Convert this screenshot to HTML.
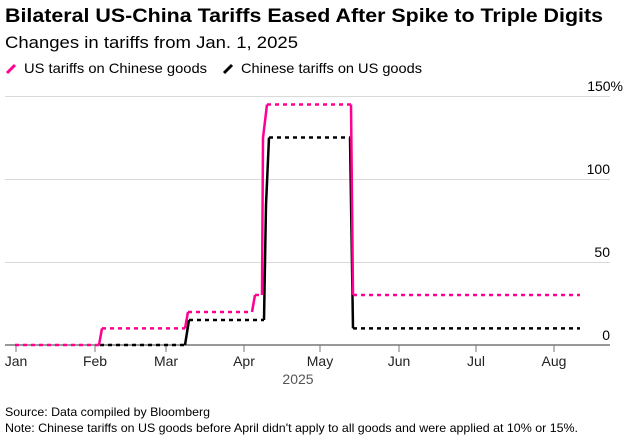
<!DOCTYPE html>
<html><head><meta charset="utf-8"><style>
body{margin:0;background:#fff;width:629px;height:441px;overflow:hidden;font-family:"Liberation Sans",sans-serif;}
</style></head><body>
<svg width="629" height="441" xmlns="http://www.w3.org/2000/svg" font-family="Liberation Sans, sans-serif">
<text x="5" y="22" font-size="19" font-weight="bold" fill="#000" textLength="598" lengthAdjust="spacingAndGlyphs">Bilateral US-China Tariffs Eased After Spike to Triple Digits</text>
<text x="5" y="48" font-size="17" fill="#000" textLength="293" lengthAdjust="spacingAndGlyphs">Changes in tariffs from Jan. 1, 2025</text>
<line x1="7" y1="73" x2="15" y2="65" stroke="#ff0090" stroke-width="3"/>
<text x="24" y="73" font-size="14" fill="#000" textLength="183" lengthAdjust="spacingAndGlyphs">US tariffs on Chinese goods</text>
<line x1="224" y1="73" x2="232" y2="65" stroke="#000" stroke-width="3"/>
<text x="241" y="73" font-size="14" fill="#000" textLength="181" lengthAdjust="spacingAndGlyphs">Chinese tariffs on US goods</text>
<g stroke="#d9d9d9" stroke-width="1">
<line x1="5" y1="96.5" x2="610" y2="96.5"/>
<line x1="5" y1="179.5" x2="610" y2="179.5"/>
<line x1="5" y1="262.5" x2="610" y2="262.5"/>
</g>
<g font-size="14" fill="#000" text-anchor="end">
<text x="623" y="91">150%</text>
<text x="610" y="174">100</text>
<text x="610" y="257">50</text>
<text x="610" y="340">0</text>
</g>
<line x1="5" y1="345" x2="610" y2="345" stroke="#777" stroke-width="1.5"/>
<g stroke="#777" stroke-width="1">
<line x1="16" y1="345" x2="16" y2="352"/><line x1="95" y1="345" x2="95" y2="352"/>
<line x1="166" y1="345" x2="166" y2="352"/><line x1="244" y1="345" x2="244" y2="352"/>
<line x1="320" y1="345" x2="320" y2="352"/><line x1="399" y1="345" x2="399" y2="352"/>
<line x1="476" y1="345" x2="476" y2="352"/><line x1="554" y1="345" x2="554" y2="352"/>
</g>
<g font-size="14" fill="#222" text-anchor="middle">
<text x="16" y="366">Jan</text><text x="95" y="366">Feb</text><text x="166" y="366">Mar</text>
<text x="244" y="366">Apr</text><text x="320" y="366">May</text><text x="399" y="366">Jun</text>
<text x="476" y="366">Jul</text><text x="554" y="366">Aug</text>
<text x="298" y="384" fill="#555">2025</text>
</g>
<g stroke="#000" stroke-width="2.5" fill="none">
<path d="M100 345H185" stroke-dasharray="4 4"/>
<path d="M185 345L189 320"/>
<path d="M189 320H264" stroke-dasharray="4 4"/>
<path d="M264 320L266 205L269 137.5"/>
<path d="M269 137.5H350" stroke-dasharray="4 4"/>
<path d="M350 137.5L353 328.4"/>
<path d="M353 328.4H580" stroke-dasharray="4 4"/>
</g>
<g stroke="#ff0090" stroke-width="2.5" fill="none">
<path d="M15 345H99" stroke-dasharray="4 4"/>
<path d="M99 345L102 328.4"/>
<path d="M102 328.4H185" stroke-dasharray="4 4"/>
<path d="M185 328.4L188 312"/>
<path d="M188 312H252" stroke-dasharray="4 4"/>
<path d="M252 312L255 295"/>
<path d="M255 295H262" stroke-dasharray="4 4"/>
<path d="M262 295L263 138L267 104.5"/>
<path d="M267 104.5H351" stroke-dasharray="4 4"/>
<path d="M351 104.5L353 295"/>
<path d="M353 295H580" stroke-dasharray="4 4"/>
</g>
<text x="5" y="416" font-size="12" fill="#000" textLength="205" lengthAdjust="spacingAndGlyphs">Source: Data compiled by Bloomberg</text>
<text x="5" y="432" font-size="12" fill="#000" textLength="573" lengthAdjust="spacingAndGlyphs">Note: Chinese tariffs on US goods before April didn't apply to all goods and were applied at 10% or 15%.</text>
</svg>
</body></html>
